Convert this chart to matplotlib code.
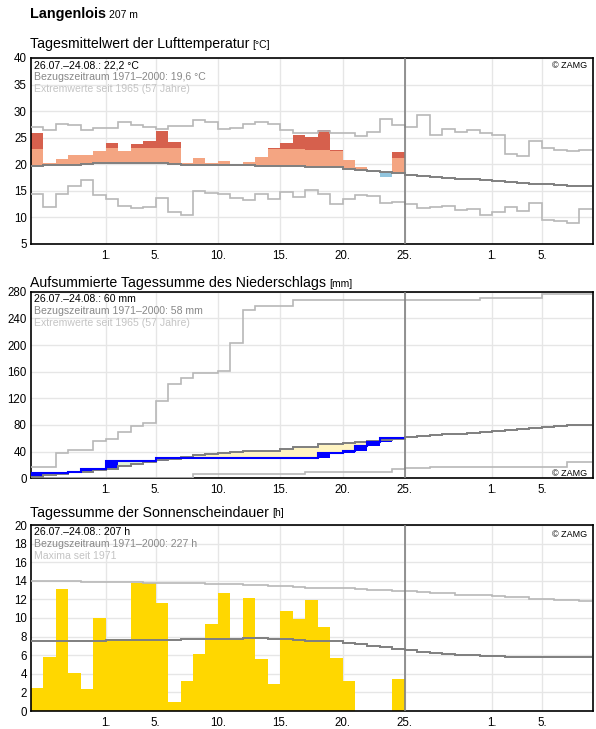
import numpy as np
import matplotlib
matplotlib.use('Agg')
import matplotlib.pyplot as plt

plt.rcParams['font.family'] = ['Liberation Sans', 'DejaVu Sans']

# --- data: day 0 = 26.07., 30 observed days, 45 climate days ---
tick_pos = [6, 10, 15, 20, 25, 30, 37, 41]
tick_lab = ['1.', '5.', '10.', '15.', '20.', '25.', '1.', '5.']

t_mean = [25.97, 20.3, 21.06, 21.8, 21.8, 22.57, 24.08, 22.57, 23.9, 24.46,
          26.2, 24.27, 20.2, 21.25, 20.18, 20.68, 19.9, 20.5, 21.4, 23.1,
          23.96, 25.47, 25.2, 26.5, 22.65, 20.87, 19.55, 18.54, 17.53, 22.25]
t_thresh = [22.8, 22.9, 22.9, 22.9, 23.0, 23.1, 23.1, 23.1, 23.1, 23.1,
            23.1, 23.1, 22.9, 22.9, 22.9, 22.9, 22.8, 22.8, 22.8, 22.8,
            22.8, 22.8, 22.6, 22.6, 22.55, 22.2, 22.0, 21.8, 21.6, 21.25]
t_norm = [19.67, 19.8, 19.8, 19.8, 20.0, 20.24, 20.24, 20.24, 20.24, 20.24,
          20.24, 20.05, 19.86, 19.86, 19.86, 19.86, 19.86, 19.86, 19.67, 19.67,
          19.67, 19.67, 19.48, 19.42, 19.42, 19.17, 18.98, 18.79, 18.6, 18.4,
          17.92, 17.74, 17.55, 17.4, 17.3, 17.17, 16.98, 16.8, 16.6, 16.42,
          16.35, 16.2, 16.05, 15.98, 15.86]
t_max = [27.04, 26.47, 27.6, 27.4, 26.47, 26.8, 26.8, 27.99, 27.4, 27.04,
         26.6, 27.2, 27.2, 28.36, 27.99, 26.66, 26.85, 27.6, 27.99, 27.6,
         26.47, 25.9, 25.9, 26.35, 25.97, 25.97, 25.4, 26.1, 28.55, 27.48,
         26.96, 29.2, 25.6, 26.7, 26.07, 26.5, 25.9, 25.45, 21.9, 21.5,
         24.4, 23.0, 22.6, 22.45, 22.7]
t_min = [14.38, 11.93, 14.38, 16.0, 17.0, 14.2, 13.44, 12.1, 11.74, 11.93,
         13.63, 10.98, 10.4, 14.95, 14.57, 14.38, 13.63, 13.25, 14.38, 13.44,
         14.76, 13.82, 15.14, 14.38, 12.5, 13.44, 14.2, 14.0, 12.68, 12.87,
         12.53, 11.7, 11.96, 12.15, 11.34, 11.53, 10.46, 10.96, 11.96, 11.15,
         12.7, 9.5, 9.26, 8.95, 11.53]

p_cum = [7.5, 7.5, 7.5, 9.0, 14, 14, 26, 26, 26, 26,
         30.3, 30.3, 30.3, 30.3, 30.3, 30.3, 30.3, 30.3, 30.3, 30.3,
         30.3, 30.3, 30.3, 37.7, 38.0, 41, 48.5, 55, 60, 60]
p_norm = [1.5, 4.5, 6.4, 9.0, 10, 12.5, 14.5, 18.5, 21.9, 24.5,
          27.5, 29.4, 31.5, 34.5, 37, 37.5, 39, 41, 41, 41,
          44.5, 47, 47, 51, 51, 52.5, 54.5, 56.5, 58, 59,
          61.5, 63.5, 65, 66, 66, 67.5, 69, 70.5, 72.5, 74,
          75.5, 76.5, 78.5, 79.5, 79.5]
p_max = [16.7, 17.7, 38.4, 42, 42, 56, 58.6, 69.7, 78.8, 83.3,
         116.7, 141, 151, 158.5, 158.5, 161, 203, 252, 258.5, 258.5,
         258.5, 267, 267, 267, 267, 267, 267, 267, 267, 267,
         267, 267, 267, 267, 267, 267, 270, 270, 270, 270,
         270, 276, 276, 276, 276]
p_min = [0, 0, 0, 0, 0, 0, 0, 0, 0, 0,
         0, 1, 1, 6, 6, 6, 6, 6, 6, 6,
         6, 6, 9, 9, 10, 10, 10, 10, 10, 13.5,
         15, 15, 16.5, 16.5, 16.5, 16.5, 16.5, 16.5, 16.5, 16.5,
         16.5, 16.5, 16.5, 25, 25]

s_hours = [2.5, 5.8, 13.1, 4.1, 2.4, 10.0, 7.7, 7.7, 13.8, 13.8,
           11.6, 1.0, 3.2, 6.1, 9.4, 12.7, 7.7, 12.2, 5.6, 2.9,
           10.8, 9.9, 11.9, 9.0, 5.7, 3.2, 0, 0, 0, 3.4]
s_norm = [7.53, 7.53, 7.53, 7.53, 7.53, 7.53, 7.63, 7.63, 7.63, 7.63,
          7.63, 7.63, 7.74, 7.74, 7.74, 7.74, 7.74, 7.85, 7.85, 7.74,
          7.74, 7.63, 7.53, 7.53, 7.53, 7.3, 7.2, 6.99, 6.85, 6.65,
          6.52, 6.3, 6.2, 6.09, 5.99, 5.99, 5.88, 5.88, 5.8, 5.8,
          5.8, 5.8, 5.8, 5.8, 5.8]
s_max = [14.01, 14.01, 14.01, 14.01, 13.9, 13.9, 13.9, 13.9, 13.9, 13.8,
         13.8, 13.8, 13.8, 13.8, 13.69, 13.69, 13.69, 13.58, 13.58, 13.47,
         13.47, 13.37, 13.26, 13.26, 13.26, 13.26, 13.15, 13.05, 13.05, 12.94,
         12.9, 12.8, 12.69, 12.69, 12.47, 12.47, 12.47, 12.33, 12.22, 12.22,
         12.08, 12.08, 11.94, 11.94, 11.83]

# --- layout helpers (pixel based) ---
W, H = 596, 729
fig = plt.figure(figsize=(W / 100, H / 100), dpi=100)
renderer = fig.canvas.get_renderer()

def fx(px):
    return px / W

def fy(py):
    return 1 - py / H

def make_ax(top, bottom, ylim, yticks):
    ax = fig.add_axes([fx(31), fy(bottom), fx(593) - fx(31), fy(top) - fy(bottom)])
    ax.set_xlim(0, 45.1)
    ax.set_ylim(*ylim)
    ax.set_yticks(yticks)
    ax.set_xticks(tick_pos)
    ax.set_xticklabels(tick_lab)
    ax.tick_params(length=0, labelsize=8.3, pad=4)
    ax.tick_params(axis='y', pad=3)
    ax.grid(color='#e6e6e6', lw=1)
    ax.set_axisbelow(True)
    for s in ax.spines.values():
        s.set_color('black')
        s.set_linewidth(1.2)
    ax.axvline(30, color='#808080', lw=1.2, zorder=4)
    return ax

def title(py, main, unit, size=10.2, usize=7.5, weight='normal'):
    t = fig.text(fx(30), fy(py), main, fontsize=size, fontweight=weight, va='baseline')
    bb = t.get_window_extent(renderer=renderer)
    fig.text((bb.x1 + 3) / W, fy(py), unit, fontsize=usize, va='baseline')

def info(top, lines):
    cols = ['black', '#888888', '#c4c4c4']
    for i, (txt, c) in enumerate(zip(lines, cols)):
        fig.text(fx(34), fy(top + 10 + 12 * i), txt, fontsize=7.6, color=c, va='baseline')

def stairs(ax, vals, color, lw):
    ax.stairs(vals, np.arange(len(vals) + 1), color=color, lw=lw, baseline=None, zorder=3)

days = np.arange(30)
norm_col, ext_col = '#7f7f7f', '#b8b8b8'

title(18, 'Langenlois', '207 m', size=10.4, usize=7.5, weight='bold')

# --- temperature ---
ax1 = make_ax(58, 244, (5, 40), range(5, 45, 5))
title(48, 'Tagesmittelwert der Lufttemperatur', '[°C]')
tm, th = np.array(t_mean), np.array(t_thresh)
tn, tx = np.array(t_norm[:30]), np.array(t_max[:30])
up = tm >= tn
ax1.bar(days[up], (np.minimum(tm, th) - tn)[up], bottom=tn[up], width=1, align='edge', color='#f4a582', zorder=2)
hi = tm > th
ax1.bar(days[hi], (np.minimum(tm, tx) - th)[hi], bottom=th[hi], width=1, align='edge', color='#d6604d', zorder=2)
rec = tm > tx
ax1.bar(days[rec], (tm - tx)[rec], bottom=tx[rec], width=1, align='edge', color='#b2182b', zorder=2)
ax1.bar(days[~up], (tn - tm)[~up], bottom=tm[~up], width=1, align='edge', color='#92c5de', zorder=2)
stairs(ax1, t_max, ext_col, 1.2)
stairs(ax1, t_min, ext_col, 1.2)
stairs(ax1, t_norm, norm_col, 1.4)
info(58, ['26.07.–24.08.: 22,2 °C', 'Bezugszeitraum 1971–2000: 19,6 °C', 'Extremwerte seit 1965 (57 Jahre)'])
fig.text(fx(587), fy(68), '© ZAMG', fontsize=6.5, ha='right', va='baseline')

# --- precipitation ---
ax2 = make_ax(291.7, 478.3, (0, 280), range(0, 281, 40))
title(286.5, 'Aufsummierte Tagessumme des Niederschlags', '[mm]')
pc, pn = np.array(p_cum), np.array(p_norm[:30])
wet = pc >= pn
ax2.bar(days[wet], (pc - pn)[wet], bottom=pn[wet], width=1, align='edge', color='#e1f1da', zorder=2)
ax2.bar(days[~wet], (pn - pc)[~wet], bottom=pc[~wet], width=1, align='edge', color='#fff4c2', zorder=2)
prev = np.concatenate([[0], pc[:-1]])
rain = pc > prev
ax2.bar(days[rain], (pc - prev)[rain], bottom=prev[rain], width=1, align='edge', color='#0000ff', zorder=3)
stairs(ax2, p_max, ext_col, 1.2)
stairs(ax2, p_min, ext_col, 1.2)
stairs(ax2, p_norm, norm_col, 1.4)
stairs(ax2, p_cum, '#0000ff', 1.5)
info(291.7, ['26.07.–24.08.: 60 mm', 'Bezugszeitraum 1971–2000: 58 mm', 'Extremwerte seit 1965 (57 Jahre)'])
fig.text(fx(587), fy(475.5), '© ZAMG', fontsize=6.5, ha='right', va='baseline')

# --- sunshine ---
ax3 = make_ax(525, 711, (0, 20), range(0, 21, 2))
title(516.5, 'Tagessumme der Sonnenscheindauer', '[h]')
ax3.bar(days, s_hours, width=1, align='edge', color='#ffd700', zorder=2)
stairs(ax3, s_max, ext_col, 1.2)
stairs(ax3, s_norm, norm_col, 1.4)
info(525, ['26.07.–24.08.: 207 h', 'Bezugszeitraum 1971–2000: 227 h', 'Maxima seit 1971'])
fig.text(fx(587), fy(537), '© ZAMG', fontsize=6.5, ha='right', va='baseline')

fig.savefig('out.png', dpi=100)
